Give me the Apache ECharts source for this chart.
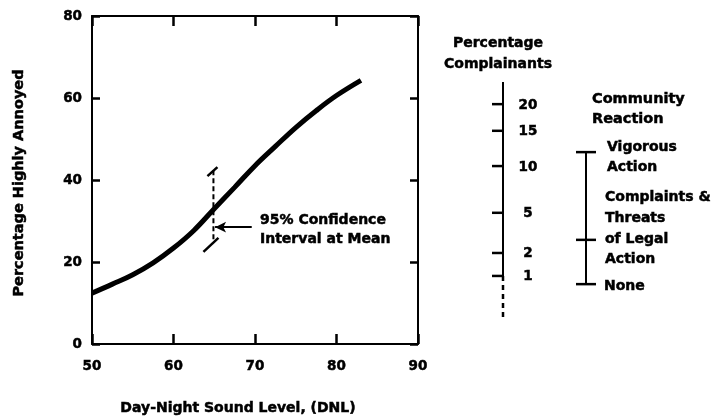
<!DOCTYPE html>
<html>
<head>
<meta charset="utf-8">
<style>
  html, body { margin: 0; padding: 0; background: #fff; }
  #chart { width: 721px; height: 420px; }
</style>
<script src="https://cdn.jsdelivr.net/npm/echarts@6/dist/echarts.min.js"></script>
</head>
<body>
<div id="chart"></div>
<script>
// ---------------- data ----------------
const dnl = [50, 52.5, 55, 57.5, 60, 62.5, 65, 67.5, 70, 72.5, 75, 77.5, 80, 83];
const pctAnnoyed = [12.4, 14.6, 16.9, 19.8, 23.4, 27.7, 33.0, 38.2, 43.5, 48.2, 52.8, 56.9, 60.6, 64.3];

const xTicks = [50, 60, 70, 80, 90];
const yTicks = [0, 20, 40, 60, 80];

// 95% confidence interval at mean: [DNL, low %, high %]
const confInterval = [64.9, 25.4, 42.4];
const arrowFrom = [69.6, 28.5];
const arrowTo = [65.1, 28.5];

// percentage complainants scale, placed at equivalent % highly annoyed
const complaintLabels = ['20', '15', '10', '5', '2', '1'];
const complaintPct = [58.5, 52.0, 43.4, 32.0, 22.2, 16.6];
const complaintAxis = [63.9, 16.6, 6.6]; // top, end of solid part, end of dashed part

// community reaction bracket levels (equivalent % highly annoyed)
const reactionPct = [46.8, 25.4, 14.6];
const reactionLabels = [['Vigorous', 'Action'], ['Complaints &', 'Threats', 'of Legal', 'Action'], ['None']];

// ---------------- chart ----------------
const FONT = '"DejaVu Sans", sans-serif';
const font = (s) => 'bold ' + s + 'px ' + FONT;
const chart = echarts.init(document.getElementById('chart'), null, { renderer: 'canvas' });

const axisLine = { show: true, onZero: false, lineStyle: { color: '#000', width: 2 } };
const tickStyle = { color: '#000', width: 2.5 };
const heavy = { stroke: '#000', lineWidth: 0.5 };

const reactionLabelPos = [
  { x: 607, y: [147, 167] },
  { x: 605, y: [197, 218, 239, 259] },
  { x: 604, y: [286] }
];
function txt(text, x, y, size, align, extra) {
  return Object.assign({ type: 'text', x: x, y: y,
    style: Object.assign({ text: text, font: font(size), fill: '#000', align: align, verticalAlign: 'middle' }, heavy) }, extra || {});
}
const graphics = [
  txt('Percentage Highly Annoyed', 19, 183, 14.5, 'center', { rotation: Math.PI / 2 }),
  txt('Day-Night Sound Level, (DNL)', 238, 408, 14, 'center'),
  txt('95% Confidence', 260, 220, 14, 'left'),
  txt('Interval at Mean', 260, 239, 14, 'left'),
  txt('Percentage', 498, 43, 14, 'center'),
  txt('Complainants', 498, 64, 14, 'center'),
  txt('Community', 592, 99, 14.5, 'left'),
  txt('Reaction', 592, 119, 14.5, 'left')
];
reactionLabels.forEach((lines, i) => {
  lines.forEach((t, j) => {
    graphics.push(txt(t, reactionLabelPos[i].x, reactionLabelPos[i].y[j], 14, 'left'));
  });
});

const tickLabel = { color: '#000', fontFamily: FONT, fontWeight: 'bold', fontSize: 13.5,
  textBorderColor: '#000', textBorderWidth: 0.5 };

const option = {
  animation: false,
  backgroundColor: '#fff',
  grid: { left: 92, right: 303, top: 16, bottom: 76 },
  xAxis: [
    { type: 'value', min: xTicks[0], max: xTicks[xTicks.length - 1], interval: 10, position: 'bottom',
      axisLine: axisLine,
      axisTick: { show: true, inside: true, length: 10, lineStyle: tickStyle },
      axisLabel: Object.assign({ margin: 15 }, tickLabel),
      splitLine: { show: false } },
    { type: 'value', min: xTicks[0], max: xTicks[xTicks.length - 1], interval: 10, position: 'top',
      axisLine: axisLine,
      axisTick: { show: true, inside: true, length: 10, lineStyle: tickStyle },
      axisLabel: { show: false },
      splitLine: { show: false } }
  ],
  yAxis: [
    { type: 'value', min: yTicks[0], max: yTicks[yTicks.length - 1], interval: 20, position: 'left',
      axisLine: axisLine,
      axisTick: { show: true, inside: true, length: 8, lineStyle: tickStyle },
      axisLabel: Object.assign({ margin: 10 }, tickLabel),
      splitLine: { show: false } },
    { type: 'value', min: yTicks[0], max: yTicks[yTicks.length - 1], interval: 20, position: 'right',
      axisLine: axisLine,
      axisTick: { show: true, inside: true, length: 8, lineStyle: tickStyle },
      axisLabel: { show: false },
      splitLine: { show: false } }
  ],
  graphic: graphics,
  series: [
    {
      type: 'line', xAxisIndex: 0, yAxisIndex: 0,
      data: dnl.map((d, i) => [d, pctAnnoyed[i]]),
      smooth: 0.4, showSymbol: false, symbol: 'none',
      lineStyle: { color: '#000', width: 5, cap: 'butt' },
      silent: true,
      markLine: {
        silent: true, animation: false,
        symbol: ['none', 'arrow'], symbolSize: [8, 11],
        label: { show: false },
        lineStyle: { color: '#000', width: 2, type: 'solid' },
        data: [[{ coord: arrowFrom }, { coord: arrowTo }]]
      }
    },
    {
      // confidence interval bracket
      type: 'custom', xAxisIndex: 0, yAxisIndex: 0, clip: false, silent: true,
      data: [confInterval],
      renderItem: (params, api) => {
        const top = api.coord([api.value(0), api.value(2)]);
        const bot = api.coord([api.value(0), api.value(1)]);
        const x = top[0];
        const st = { stroke: '#000', lineWidth: 2 };
        return { type: 'group', children: [
          { type: 'line', shape: { x1: x, y1: top[1], x2: x, y2: bot[1] }, style: Object.assign({ lineDash: [5, 3] }, st) },
          { type: 'line', shape: { x1: x - 6, y1: top[1] + 6, x2: x + 4, y2: top[1] - 3 }, style: Object.assign({}, st, { lineWidth: 2.5 }) },
          { type: 'line', shape: { x1: x - 10, y1: bot[1] + 12, x2: x + 5, y2: bot[1] - 2 }, style: Object.assign({}, st, { lineWidth: 2.5 }) }
        ] };
      }
    },
    {
      // percentage complainants axis line
      type: 'custom', xAxisIndex: 0, yAxisIndex: 0, clip: false, silent: true,
      data: [[50].concat(complaintAxis)],
      renderItem: (params, api) => {
        const yTop = api.coord([50, api.value(1)])[1];
        const ySolid = api.coord([50, api.value(2)])[1];
        const yDash = api.coord([50, api.value(3)])[1];
        const x = 503;
        return { type: 'group', children: [
          { type: 'line', shape: { x1: x, y1: yTop, x2: x, y2: ySolid }, style: { stroke: '#000', lineWidth: 2 } },
          { type: 'line', shape: { x1: x, y1: ySolid, x2: x, y2: yDash }, style: { stroke: '#000', lineWidth: 2.5, lineDash: [5, 4] } }
        ] };
      }
    },
    {
      // percentage complainants ticks + labels
      type: 'custom', xAxisIndex: 0, yAxisIndex: 0, clip: false, silent: true,
      data: complaintPct.map((p) => [50, p]),
      renderItem: (params, api) => {
        const y = api.coord([50, api.value(1)])[1];
        return { type: 'group', children: [
          { type: 'line', shape: { x1: 492, y1: y, x2: 503, y2: y }, style: { stroke: '#000', lineWidth: 2.5 } },
          { type: 'text', style: Object.assign({ text: complaintLabels[params.dataIndex], x: 528, y: y + 1,
              align: 'center', verticalAlign: 'middle', font: font(13.5), fill: '#000' }, heavy) }
        ] };
      }
    },
    {
      // community reaction bracket
      type: 'custom', xAxisIndex: 0, yAxisIndex: 0, clip: false, silent: true,
      data: [[50].concat(reactionPct)],
      renderItem: (params, api) => {
        const ys = [1, 2, 3].map((k) => api.coord([50, api.value(k)])[1]);
        const x = 586;
        const children = [
          { type: 'line', shape: { x1: x, y1: ys[0], x2: x, y2: ys[2] }, style: { stroke: '#000', lineWidth: 2 } }
        ];
        ys.forEach((y) => {
          children.push({ type: 'line', shape: { x1: x - 10, y1: y, x2: x + 10, y2: y }, style: { stroke: '#000', lineWidth: 2.5 } });
        });
        return { type: 'group', children: children };
      }
    }
  ]
};
chart.setOption(option);
</script>
</body>
</html>
